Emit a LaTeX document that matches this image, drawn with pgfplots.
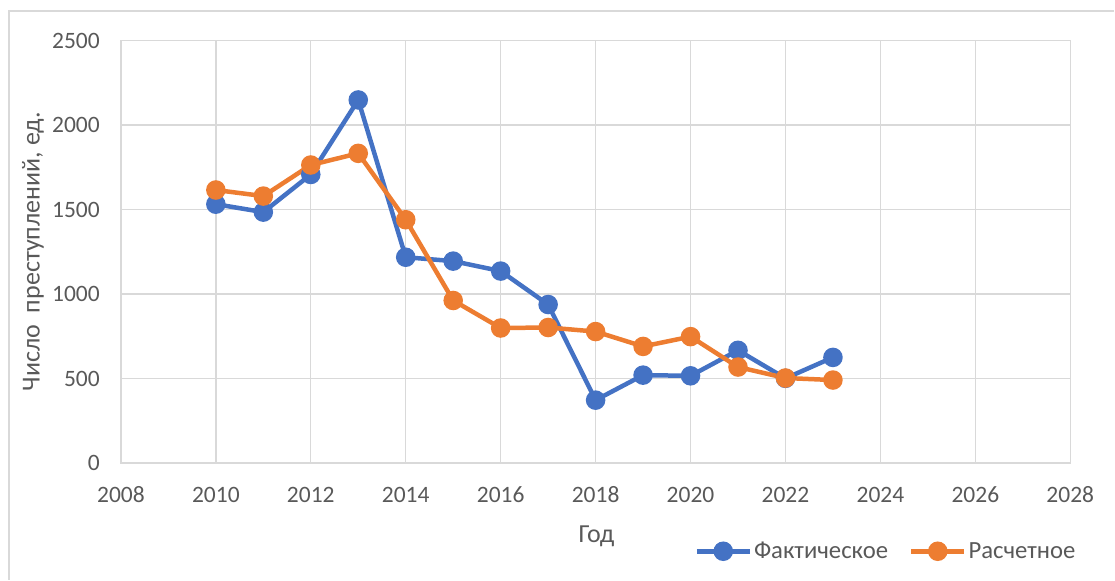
\documentclass[border=0pt]{standalone}
\usepackage{pgfplots}
\pgfplotsset{compat=1.18}
\usepackage{fontspec}
\setmainfont{Carlito}
\definecolor{cblue}{HTML}{4472C4}
\definecolor{corange}{HTML}{ED7D31}
\definecolor{cgrid}{HTML}{D9D9D9}
\definecolor{ctext}{HTML}{595959}
\begin{document}
\begin{tikzpicture}
\path (0pt,0pt) rectangle (1115pt,580pt);
\draw[cgrid, line width=1.5pt] (9pt,0pt) -- (9pt,569pt) -- (1115pt,569pt);
\begin{axis}[
  at={(121pt,116.7pt)}, anchor=south west,
  scale only axis, width=950pt, height=422.6pt,
  xmin=2008, xmax=2028, ymin=0, ymax=2500,
  xtick={2008,2010,...,2028}, ytick={0,500,...,2500},
  /pgf/number format/assume math mode=true,
  /pgf/number format/set thousands separator={},
  grid=major, major grid style={cgrid, line width=1.4pt},
  axis line style={cgrid, line width=1.4pt},
  major tick length=0pt,
  tick label style={font=\fontsize{23.5}{28}\selectfont, text=ctext, inner sep=0pt},
  xticklabel style={anchor=base, yshift=-40pt},
  yticklabel style={anchor=east, xshift=-21pt},
  xlabel={Год}, ylabel={Число~ преступлений, ед.},
  label style={font=\fontsize{26}{31}\selectfont, text=ctext},
  xlabel style={at={(axis description cs:0.501,-0.1893)}, anchor=base},
  ylabel style={at={(axis description cs:-0.0926,0.5)}, anchor=center},
  legend columns=2,
  legend style={at={(axis description cs:0.604,-0.209)}, anchor=west, draw=none, fill=none,
    font=\fontsize{24.7}{30}\selectfont, text=ctext, inner sep=0pt,
    /tikz/every even column/.append style={column sep=19pt}},
  legend cell align=left,
  legend image code/.code={\draw[mark repeat=2,mark phase=2] plot coordinates {(0pt,0pt) (26.5pt,0pt) (53pt,0pt)};},
]
\addplot[cblue, line width=4.5pt, mark=*, mark size=7.5pt, mark options={solid}] coordinates {
(2010,1532) (2011,1485) (2012,1708) (2013,2149) (2014,1218) (2015,1195) (2016,1136)
(2017,938) (2018,372) (2019,520) (2020,516) (2021,667) (2022,501) (2023,625)};
\addlegendentry{Фактическое}
\addplot[corange, line width=4.5pt, mark=*, mark size=7.5pt, mark options={solid}] coordinates {
(2010,1616) (2011,1580) (2012,1764) (2013,1833) (2014,1440) (2015,962) (2016,799)
(2017,802) (2018,778) (2019,690) (2020,748) (2021,568) (2022,503) (2023,491)};
\addlegendentry{Расчетное}
\end{axis}
\end{tikzpicture}
\end{document}
